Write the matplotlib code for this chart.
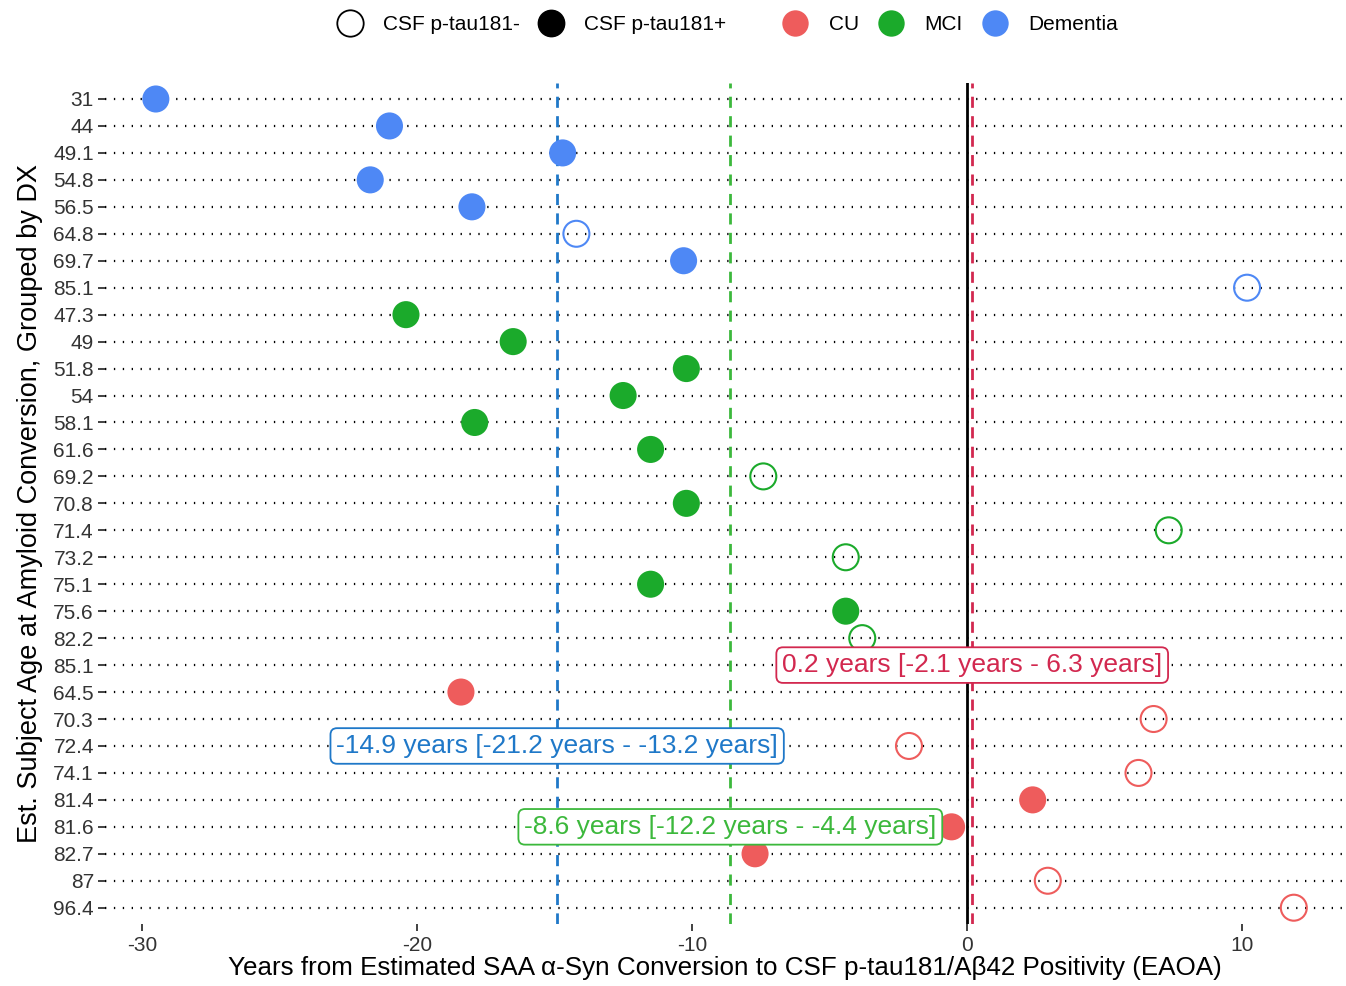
import numpy as np
import matplotlib.pyplot as plt
from matplotlib.lines import Line2D

plt.rcParams['font.family'] = ['Liberation Sans', 'DejaVu Sans']
plt.rcParams['axes.unicode_minus'] = False

# subjects, top to bottom: age label, diagnosis, CSF status, EAOA (years)
age_labels = ['31', '44', '49.1', '54.8', '56.5', '64.8', '69.7', '85.1',
              '47.3', '49', '51.8', '54', '58.1', '61.6', '69.2', '70.8',
              '71.4', '73.2', '75.1', '75.6', '82.2',
              '85.1', '64.5', '70.3', '72.4', '74.1', '81.4', '81.6', '82.7',
              '87', '96.4']
dx = (['Dementia'] * 8) + (['MCI'] * 13) + (['CU'] * 10)
tau_pos = [1, 1, 1, 1, 1, 0, 1, 0,
           1, 1, 1, 1, 1, 1, 0, 1, 0, 0, 1, 1, 0,
           1, 1, 0, 0, 0, 1, 1, 1, 0, 0]
eaoa = [-29.5, -21.0, -14.7, -21.7, -18.0, -14.2, -10.3, 10.2,
        -20.4, -16.5, -10.2, -12.5, -17.9, -11.5, -7.4, -10.2,
        7.35, -4.4, -11.5, -4.4, -3.8,
        np.nan, -18.4, 6.8, -2.1, 6.25, 2.4, -0.55, -7.7, 2.95, 11.9]

# group medians with intervals
groups = ['Dementia', 'MCI', 'CU']
med = [-14.9, -8.6, 0.2]
lo = [-21.2, -12.2, -2.1]
hi = [-13.2, -4.4, 6.3]
label_rows = [24, 27, 21]

point_col = {'CU': '#EE5C5C', 'MCI': '#1BAA2B', 'Dementia': '#4E88F5'}
line_col = {'CU': '#D2284F', 'MCI': '#3CB83C', 'Dementia': '#1F78C8'}

fig = plt.figure(figsize=(13.46, 9.86), dpi=100)
ax = fig.add_axes([0.078, 0.063, 0.921, 0.853])

n = len(age_labels)
ypos = np.arange(n)

for y in ypos:
    ax.axhline(y, color='black', lw=1.6, ls=(0, (0.6, 3.4)), zorder=1)

ax.axvline(0, color='black', lw=2, zorder=2)
for g, m in zip(groups, med):
    ax.axvline(m, color=line_col[g], lw=2, ls=(0, (4, 3)), zorder=2)

for y, g, t, v in zip(ypos, dx, tau_pos, eaoa):
    if np.isnan(v):
        continue
    if t:
        ax.scatter(v, y, s=380, color=point_col[g], edgecolors='none', zorder=3)
    else:
        ax.scatter(v, y, s=350, facecolors='none', edgecolors=point_col[g],
                   linewidths=1.5, zorder=3)

for g, m, a, b, r in zip(groups, med, lo, hi, label_rows):
    ax.text(m, r, f'{m:g} years [{a:g} years - {b:g} years]', ha='center', va='center',
            fontsize=19, color=line_col[g], zorder=5,
            bbox=dict(boxstyle='round,pad=0.22,rounding_size=0.25', fc='white',
                      ec=line_col[g], lw=1.3))

ax.set_xlim(-31.35, 13.75)
ax.set_ylim(n - 0.4, -0.6)
ax.set_yticks(ypos)
ax.set_yticklabels(age_labels)
ax.set_xticks([-30, -20, -10, 0, 10])
ax.tick_params(axis='both', labelsize=15, colors='#333333', length=5, width=1.3)
ax.tick_params(axis='y', pad=3)
for s in ax.spines.values():
    s.set_visible(False)

ax.set_xlabel('Years from Estimated SAA α-Syn Conversion to CSF p-tau181/Aβ42 Positivity (EAOA)',
              fontsize=18.7, labelpad=1)
ax.set_ylabel('Est. Subject Age at Amyloid Conversion, Grouped by DX', fontsize=19.5, labelpad=7)

tau_handles = [Line2D([], [], ls='none', marker='o', ms=19, mfc='white', mec='black', mew=1.3),
               Line2D([], [], ls='none', marker='o', ms=19, mfc='black', mec='black')]
dx_handles = [Line2D([], [], ls='none', marker='o', ms=19, mfc=point_col[g], mec='none')
              for g in ['CU', 'MCI', 'Dementia']]
fig.legend(tau_handles, ['CSF p-tau181-', 'CSF p-tau181+'], ncol=2, loc='center',
           bbox_to_anchor=(0.392, 0.975), frameon=False, fontsize=15,
           handletextpad=0.6, columnspacing=0.5)
fig.legend(dx_handles, ['CU', 'MCI', 'Dementia'], ncol=3, loc='center',
           bbox_to_anchor=(0.703, 0.975), frameon=False, fontsize=15,
           handletextpad=0.6, columnspacing=0.55)

fig.savefig('out.png', dpi=100)
